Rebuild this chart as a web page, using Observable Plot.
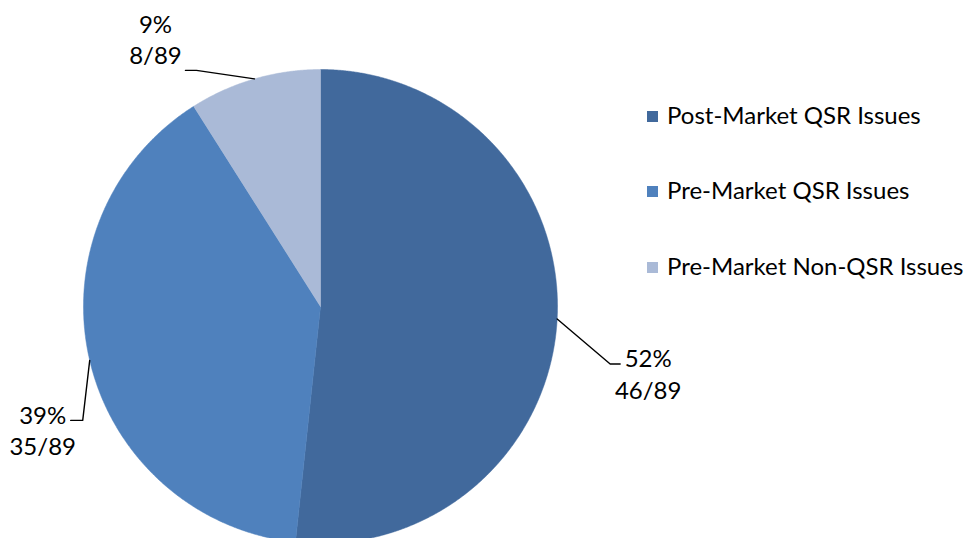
<!DOCTYPE html>
<html><head><meta charset="utf-8">
<script src="https://cdn.jsdelivr.net/npm/d3@7"></script>
<script src="https://cdn.jsdelivr.net/npm/@observablehq/plot@0.6"></script>
<style>
body{margin:0;background:#fff;}
#wrap{position:relative;width:969px;height:538px;overflow:hidden;font-family:Lato,sans-serif;}
#wrap svg{overflow:hidden;}
#legend{position:absolute;left:647px;top:0;}
.item{position:absolute;left:0;white-space:nowrap;font-size:24px;color:#000;height:30px;line-height:30px;}
.sw{display:inline-block;width:11px;height:11px;margin-right:9px;vertical-align:middle;position:relative;top:-1px;}
</style></head><body><div id="wrap"><div id="legend"></div></div>
<script>
const categories = ["Post-Market QSR Issues","Pre-Market QSR Issues","Pre-Market Non-QSR Issues"];
const counts = [46,35,8];
const total = 89;
const percentLabels = ["52%","39%","9%"];
const fractionLabels = ["46/89","35/89","8/89"];
const colors = ["#41699C","#4F81BD","#AABAD7"];

// styling: leader-line elbow / end offsets and text offsets, in pixels
const R_PX = 237;
const leaderStyle = [
  {elbow:[53,45], end:[63,45], text:[91,54]},
  {elbow:[-7,60], end:[-19,60], text:[-47,69]},
  {elbow:[-58,-8.5], end:[-69,-8.5], text:[-99,-40]}
];

const arcs = d3.pie().sort(null).value(d => d)(counts);
const slicePts = [];
const leaderPts = [];
const labels = [];
arcs.forEach((p, i) => {
  const n = Math.max(2, Math.ceil((p.endAngle - p.startAngle) / 0.005));
  slicePts.push({cat: categories[i], x: 0, y: 0});
  for (let k = 0; k <= n; k++) {
    const a = p.startAngle + (p.endAngle - p.startAngle) * k / n;
    slicePts.push({cat: categories[i], x: Math.sin(a), y: Math.cos(a)});
  }
  slicePts.push({cat: categories[i], x: 0, y: 0});
  const m = (p.startAngle + p.endAngle) / 2;
  const sx = Math.sin(m), sy = Math.cos(m);
  const st = leaderStyle[i];
  leaderPts.push({cat: categories[i], x: sx, y: sy});
  leaderPts.push({cat: categories[i], x: sx + st.elbow[0] / R_PX, y: sy - st.elbow[1] / R_PX});
  leaderPts.push({cat: categories[i], x: sx + st.end[0] / R_PX, y: sy - st.end[1] / R_PX});
  labels.push({x: sx + st.text[0] / R_PX, y: sy - st.text[1] / R_PX, t: percentLabels[i] + "\n" + fractionLabels[i]});
});

const chart = Plot.plot({
  width: 969, height: 538, margin: 0,
  style: {fontFamily: "Lato, sans-serif", background: "transparent"},
  x: {domain: [-1, 1], range: [83, 557], axis: null},
  y: {domain: [-1, 1], range: [543, 69], axis: null},
  color: {domain: categories, range: colors},
  marks: [
    Plot.line(slicePts, {x: "x", y: "y", z: "cat", fill: "cat", stroke: "cat", strokeWidth: 0.5, curve: "linear"}),
    Plot.line(leaderPts, {x: "x", y: "y", z: "cat", stroke: "black", strokeWidth: 1.4, curve: "linear"}),
    Plot.text(labels, {x: "x", y: "y", text: "t", fontSize: 24, lineHeight: 1.3, textAnchor: "middle", lineAnchor: "middle", fill: "black"})
  ]
});
const wrap = document.getElementById("wrap");
wrap.insertBefore(chart, wrap.firstChild);

const legend = document.getElementById("legend");
const rowY = [100, 175, 251];
categories.forEach((c, i) => {
  const d = document.createElement("div");
  d.className = "item";
  d.style.top = rowY[i] + "px";
  d.innerHTML = `<span class="sw" style="background:${colors[i]}"></span>${c}`;
  legend.appendChild(d);
});
</script></body></html>
